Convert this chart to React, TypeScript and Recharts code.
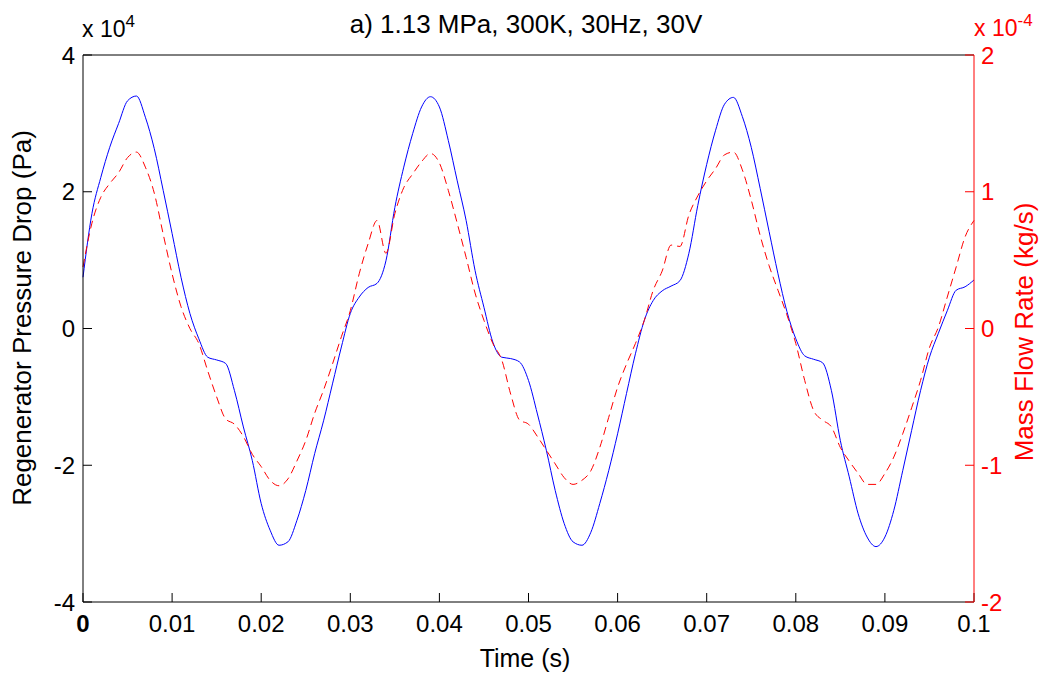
import React from 'react';
import { LineChart, Line, XAxis, YAxis } from 'recharts';

const W = 1047;
const H = 675;
const FONT = "'Liberation Sans', Arial, Helvetica, sans-serif";

// regenerator pressure drop, x 10^4 Pa, one sample per ms from 0 to 0.1 s
const PRESSURE = [
  0.75, 1.68, 2.21, 2.65, 3.0, 3.33, 3.4, 3.09, 2.63, 2.02,
  1.39, 0.75, 0.22, -0.15, -0.42, -0.46, -0.51, -0.91, -1.44, -1.93,
  -2.56, -2.95, -3.17, -3.12, -2.81, -2.37, -1.83, -1.35, -0.81, -0.27,
  0.22, 0.46, 0.6, 0.66, 0.99, 1.77, 2.36, 2.85, 3.24, 3.39,
  3.24, 2.75, 2.16, 1.58, 0.85, 0.31, -0.2, -0.42, -0.44, -0.49,
  -0.76, -1.25, -1.78, -2.37, -2.85, -3.12, -3.17, -2.98, -2.56, -2.08,
  -1.54, -0.95, -0.37, 0.12, 0.41, 0.55, 0.62, 0.7, 1.1, 1.8,
  2.4, 2.9, 3.28, 3.38, 3.1, 2.65, 2.05, 1.42, 0.8, 0.25,
  -0.15, -0.4, -0.45, -0.5, -0.91, -1.64, -2.17, -2.71, -3.05, -3.19,
  -3.05, -2.66, -2.08, -1.49, -0.91, -0.42, -0.07, 0.26, 0.56, 0.61,
  0.71,
];

// mass flow rate, x 10^-4 kg/s, same sampling
const MASS_FLOW = [
  0.45, 0.77, 0.96, 1.06, 1.14, 1.25, 1.29, 1.18, 0.99, 0.69,
  0.4, 0.16, 0.0, -0.11, -0.31, -0.5, -0.66, -0.7, -0.79, -0.92,
  -1.01, -1.11, -1.15, -1.1, -0.97, -0.82, -0.62, -0.45, -0.26, -0.06,
  0.13, 0.4, 0.62, 0.79, 0.55, 0.84, 1.03, 1.13, 1.22, 1.28,
  1.21, 1.01, 0.77, 0.52, 0.26, 0.06, -0.11, -0.23, -0.48, -0.67,
  -0.7, -0.79, -0.89, -0.99, -1.09, -1.14, -1.11, -1.04, -0.87, -0.65,
  -0.43, -0.26, -0.11, 0.06, 0.28, 0.42, 0.61, 0.6, 0.83, 0.97,
  1.08, 1.17, 1.27, 1.29, 1.16, 0.94, 0.68, 0.46, 0.28, 0.1,
  -0.11, -0.38, -0.6, -0.67, -0.72, -0.87, -0.97, -1.06, -1.14, -1.14,
  -1.06, -0.94, -0.77, -0.58, -0.38, -0.14, 0.01, 0.23, 0.45, 0.67,
  0.79,
];

const TIME_TICKS = [0, 0.01, 0.02, 0.03, 0.04, 0.05, 0.06, 0.07, 0.08, 0.09, 0.1];
const TIME_LABELS = ['0', '0.01', '0.02', '0.03', '0.04', '0.05', '0.06', '0.07', '0.08', '0.09', '0.1'];
const PRESSURE_TICKS = [-4, -2, 0, 2, 4];
const FLOW_TICKS = [-2, -1, 0, 1, 2];

const data = PRESSURE.map((p, i) => ({ t: i / 1000, p, m: MASS_FLOW[i] }));

// x tick labels; matlab draws the first zero heavier
const TimeTick = (props: any) => {
  const { x, y, payload } = props;
  const idx = TIME_TICKS.findIndex(v => Math.abs(v - payload.value) < 1e-9);
  return (
    <text
      x={x}
      y={y}
      dy="0.71em"
      textAnchor="middle"
      fill="#000"
      fontSize={24}
      fontFamily={FONT}
      fontWeight={payload.value === 0 ? 'bold' : 'normal'}
    >
      {TIME_LABELS[idx]}
    </text>
  );
};

const App: React.FC = () => {
  return (
    <div style={{ position: 'absolute', left: 0, top: 0, width: W, height: H, background: '#fff' }}>
      <LineChart
        width={W}
        height={H}
        data={data}
        margin={{ top: 25, right: 13, bottom: 33, left: 23 }}
      >
        <XAxis
          xAxisId="bottom"
          dataKey="t"
          type="number"
          domain={[0, 0.1]}
          ticks={TIME_TICKS}
          interval={0}
          height={40}
          stroke="#000"
          tickSize={-9}
          tickMargin={22}
          tick={<TimeTick />}
        />
        <XAxis
          xAxisId="top"
          orientation="top"
          dataKey="t"
          type="number"
          domain={[0, 0.1]}
          ticks={TIME_TICKS}
          interval={0}
          height={30}
          stroke="#000"
          tickSize={-9}
          tick={false}
        />
        <YAxis
          yAxisId="left"
          domain={[-4, 4]}
          ticks={PRESSURE_TICKS}
          interval={0}
          width={60}
          stroke="#000"
          tickSize={-9}
          tickMargin={17}
          tick={{ fill: '#000', fontSize: 24, fontFamily: FONT }}
        />
        <YAxis
          yAxisId="right"
          orientation="right"
          domain={[-2, 2]}
          ticks={FLOW_TICKS}
          interval={0}
          width={60}
          stroke="#ff0000"
          tickSize={-9}
          tickMargin={16}
          tick={{ fill: '#ff0000', fontSize: 24, fontFamily: FONT }}
        />
        <Line
          xAxisId="bottom"
          yAxisId="left"
          type="monotone"
          dataKey="p"
          stroke="#0000ff"
          strokeWidth={1}
          dot={false}
          isAnimationActive={false}
        />
        <Line
          xAxisId="bottom"
          yAxisId="right"
          type="monotone"
          dataKey="m"
          stroke="#ff0000"
          strokeWidth={1}
          strokeDasharray="8 5"
          dot={false}
          isAnimationActive={false}
        />
      </LineChart>
      <svg
        width={W}
        height={H}
        style={{ position: 'absolute', left: 0, top: 0, pointerEvents: 'none' }}
        fontFamily={FONT}
      >
        <text x={526} y={33} textAnchor="middle" fontSize={26} fill="#000">
          a) 1.13 MPa, 300K, 30Hz, 30V
        </text>
        <text x={82} y={37} fontSize={23} fill="#000">
          x 10<tspan dy={-10} fontSize={17}>4</tspan>
        </text>
        <text x={974} y={36} fontSize={23} fill="#ff0000">
          x 10<tspan dy={-10} fontSize={17}>-4</tspan>
        </text>
        <text x={525} y={667} textAnchor="middle" fontSize={25} fill="#000">
          Time (s)
        </text>
        <text
          x={0}
          y={0}
          transform="translate(31 318) rotate(-90)"
          textAnchor="middle"
          fontSize={26}
          fill="#000"
        >
          Regenerator Pressure Drop (Pa)
        </text>
        <text
          x={0}
          y={0}
          transform="translate(1033 332) rotate(-90)"
          textAnchor="middle"
          fontSize={26}
          fill="#ff0000"
        >
          Mass Flow Rate (kg/s)
        </text>
      </svg>
    </div>
  );
};

export default App;
